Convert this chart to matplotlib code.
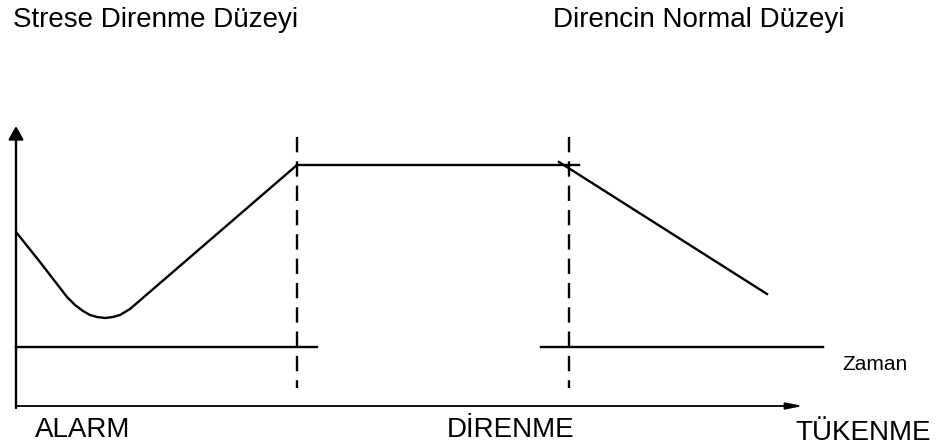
import matplotlib.pyplot as plt

plt.rcParams['font.family'] = ['Liberation Sans', 'DejaVu Sans']

# ================================
# Data (diagram coordinates, y grows downward)
# ================================

curve_x = [16, 40, 67, 75, 83, 90, 97, 105, 113, 120, 130, 297]
curve_y = [232, 262, 297, 305, 311, 315, 317, 318, 317, 315, 309, 165]

plateau_x = [297, 579]
plateau_y = [165, 165]

decline_x = [559, 767]
decline_y = [162, 294]

base_left_x = [16, 317]
base_right_x = [541, 823]
base_y = 347

phase_x = [297, 569]
phase_top, phase_bottom = 137, 388

axis_origin = (16, 406)
axis_x_end = 803
axis_y_end = 126

top_labels = ["Strese Direnme Düzeyi", "Direncin Normal Düzeyi"]
top_label_x = [13, 553]

phase_labels = ["ALARM", "DİRENME", "TÜKENME"]
phase_label_x = [35, 447, 795]
phase_label_y = [437, 437, 440]

# ================================
# Figure
# ================================

fig = plt.figure(figsize=(9.46, 4.48), dpi=100)
ax = fig.add_axes([0, 0, 1, 1])
ax.set_xlim(0, 946)
ax.set_ylim(448, 0)
ax.axis('off')

lw = 1.7
ax.plot(curve_x, curve_y, color='black', lw=lw, solid_capstyle='butt')
ax.plot(plateau_x, plateau_y, color='black', lw=lw)
ax.plot(decline_x, decline_y, color='black', lw=lw)
ax.plot(base_left_x, [base_y, base_y], color='black', lw=lw)
ax.plot(base_right_x, [base_y, base_y], color='black', lw=lw)

for px in phase_x:
    ln, = ax.plot([px, px], [phase_top, phase_bottom], color='black', lw=lw)
    ln.set_dashes((6.5, 3.8))

# axes with arrows
ox, oy = axis_origin
ax.annotate('', xy=(ox, axis_y_end), xytext=(ox, oy + 2),
            arrowprops=dict(arrowstyle='-|>,head_length=0.8,head_width=0.45',
                            color='black', lw=lw, shrinkA=0, shrinkB=0))
ax.annotate('', xy=(axis_x_end, oy), xytext=(ox, oy),
            arrowprops=dict(arrowstyle='-|>,head_length=1.0,head_width=0.2',
                            color='black', lw=1.3, shrinkA=0, shrinkB=0))

for lbl, x in zip(top_labels, top_label_x):
    ax.text(x, 27, lbl, fontsize=20, va='baseline', ha='left')

for lbl, x, y in zip(phase_labels, phase_label_x, phase_label_y):
    ax.text(x, y, lbl, fontsize=20, va='baseline', ha='left')

ax.text(842, 370, "Zaman", fontsize=15, va='baseline', ha='left')

fig.savefig('out.png', dpi=100)
